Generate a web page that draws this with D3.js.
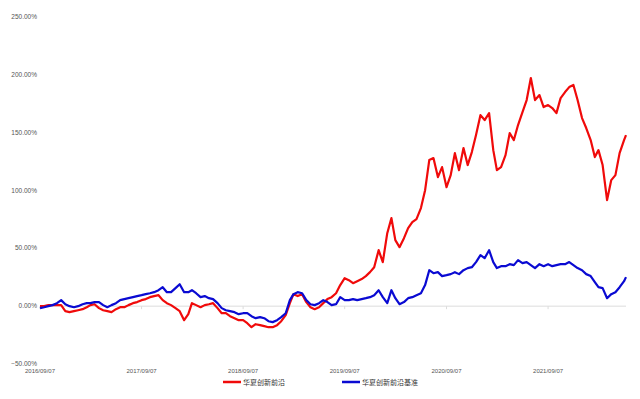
<!DOCTYPE html>
<html>
<head>
<meta charset="utf-8">
<script src="https://cdn.jsdelivr.net/npm/d3@7"></script>
<style>
  body { margin: 0; background: #fff; }
  text { font-family: "Liberation Sans", Arial, sans-serif; }
</style>
</head>
<body>
<div class="vis-linechart"></div>
<script>
// semi-monthly observation dates
const dates = [
  "2016-09-07","2016-09-22","2016-10-07","2016-10-22","2016-11-07","2016-11-22","2016-12-07","2016-12-22",
  "2017-01-07","2017-01-22","2017-02-07","2017-02-22","2017-03-07","2017-03-22","2017-04-07","2017-04-22",
  "2017-05-07","2017-05-22","2017-06-07","2017-06-22","2017-07-07","2017-07-22","2017-08-07","2017-08-22",
  "2017-09-07","2017-09-22","2017-10-07","2017-10-22","2017-11-07","2017-11-22","2017-12-07","2017-12-22",
  "2018-01-07","2018-01-22","2018-02-07","2018-02-22","2018-03-07","2018-03-22","2018-04-07","2018-04-22",
  "2018-05-07","2018-05-22","2018-06-07","2018-06-22","2018-07-07","2018-07-22","2018-08-07","2018-08-22",
  "2018-09-07","2018-09-22","2018-10-07","2018-10-22","2018-11-07","2018-11-22","2018-12-07","2018-12-22",
  "2019-01-07","2019-01-22","2019-02-07","2019-02-22","2019-03-07","2019-03-22","2019-04-07","2019-04-22",
  "2019-05-07","2019-05-22","2019-06-07","2019-06-22","2019-07-07","2019-07-22","2019-08-07","2019-08-22",
  "2019-09-07","2019-09-22","2019-10-07","2019-10-22","2019-11-07","2019-11-22","2019-12-07","2019-12-22",
  "2020-01-07","2020-01-22","2020-02-07","2020-02-22","2020-03-07","2020-03-22","2020-04-07","2020-04-22",
  "2020-05-07","2020-05-22","2020-06-07","2020-06-22","2020-07-07","2020-07-22","2020-08-07","2020-08-22",
  "2020-09-07","2020-09-22","2020-10-07","2020-10-22","2020-11-07","2020-11-22","2020-12-07","2020-12-22",
  "2021-01-07","2021-01-22","2021-02-07","2021-02-22","2021-03-07","2021-03-22","2021-04-07","2021-04-22",
  "2021-05-07","2021-05-22","2021-06-07","2021-06-22","2021-07-07","2021-07-22","2021-08-07","2021-08-22",
  "2021-09-07","2021-09-22","2021-10-07","2021-10-22","2021-11-07","2021-11-22","2021-12-07","2021-12-22",
  "2022-01-07","2022-01-22","2022-02-07","2022-02-22","2022-03-07","2022-03-22","2022-04-07","2022-04-22",
  "2022-05-07","2022-05-22","2022-06-07","2022-06-14"
];

// fund cumulative return (%)
const fundValues = [
  0, 0, 0.9, 0.9, 0.9, 0.9, -4.3, -5.2, -4.3, -3.5,
  -2.6, -0.9, 0.9, 1.7, -1.7, -3.5, -4.3, -5.2, -2.6, -0.9,
  -0.9, 0.9, 2.6, 3.5, 5.2, 6.1, 7.8, 8.7, 9.5, 5.2,
  2.6, 0.9, -1.7, -4.3, -12.1, -6.9, 2.6, 0.9, -0.9, 0.9,
  1.7, 2.6, -1.7, -6.1, -6.1, -8.7, -10.4, -12.1, -12.1, -14.7,
  -18.2, -15.6, -16.4, -17.3, -18.2, -18.2, -16.4, -13.0, -7.8, 2.6,
  10.4, 8.7, 10.4, 3.5, -0.9, -2.6, -0.9, 2.6, 6.1, 7.8,
  11.2, 18.2, 24.2, 22.5, 19.9, 21.6, 23.4, 26.0, 29.4, 33.7,
  48.4, 38.1, 63.1, 76.1, 57.1, 51.0, 58.8, 67.5, 72.7, 75.3,
  84.8, 100.3, 126.3, 128.0, 111.6, 120.2, 102.9, 113.3, 132.3, 117.6,
  136.7, 122.0, 133.2, 147.9, 165.2, 160.9, 166.9, 134.9, 117.6, 120.2,
  130.6, 149.6, 143.6, 156.6, 167.8, 178.2, 197.2, 178.2, 182.5, 172.1,
  173.9, 171.3, 166.9, 179.9, 185.1, 189.4, 191.2, 178.2, 162.6, 154.0,
  143.6, 128.9, 134.9, 122.0, 91.7, 109.0, 113.3, 132.3, 143.6, 147.9
];

// benchmark cumulative return (%)
const benchValues = [
  -1.7, -0.9, 0, 0.9, 2.6, 5.2, 1.7, 0, -0.9, 0,
  1.7, 2.6, 2.6, 3.5, 3.5, 0.9, -0.9, 0.9, 2.6, 5.2,
  6.1, 6.9, 7.8, 8.7, 9.5, 10.4, 11.2, 12.1, 13.8, 16.4,
  12.1, 12.1, 15.6, 19.0, 12.1, 12.1, 13.8, 11.2, 7.8, 8.7,
  6.9, 6.1, 2.6, -1.7, -3.5, -4.3, -5.2, -6.9, -6.1, -6.1,
  -8.7, -10.4, -9.5, -10.4, -13.0, -13.8, -12.1, -9.5, -6.1, 5.2,
  10.4, 12.1, 11.2, 5.2, 1.7, 0.9, 2.6, 5.2, 3.5, 0.9,
  1.7, 7.8, 5.2, 5.2, 6.1, 5.2, 6.1, 6.9, 7.8, 9.5,
  13.8, 7.8, 2.6, 13.8, 6.9, 1.7, 3.5, 6.9, 7.8, 9.5,
  11.2, 18.2, 31.1, 28.5, 29.4, 26.0, 26.8, 27.7, 29.4, 27.7,
  31.1, 32.9, 33.7, 38.1, 44.1, 41.5, 48.4, 38.1, 32.9, 34.6,
  34.6, 36.3, 35.5, 39.8, 37.2, 38.1, 35.5, 32.9, 36.3, 34.6,
  36.3, 34.6, 35.5, 36.3, 36.3, 38.1, 35.5, 32.9, 31.1, 27.7,
  26.0, 20.8, 16.4, 15.6, 6.9, 10.4, 12.1, 16.4, 21.6, 25.1
];

const seriesNames = ["华夏创新前沿", "华夏创新前沿基准"];
const yTicks = [-50, 0, 50, 100, 150, 200, 250];
const xTicks = ["2016-09-07", "2017-09-07", "2018-09-07", "2019-09-07", "2020-09-07", "2021-09-07"];

const parse = d3.timeParse("%Y-%m-%d");
const colors = ["#f00a0a", "#0a0ad2"];

const series = [fundValues, benchValues].map(function(vals, k) {
  return {
    name: seriesNames[k],
    color: colors[k],
    values: vals.map(function(v, i) { return {date: parse(dates[i]), value: v}; })
  };
});

var width = 640, height = 399;

var svg = d3.select(".vis-linechart")
  .append("svg")
    .attr("width", width)
    .attr("height", height);

var x = d3.scaleTime()
  .domain([parse(dates[0]), parse(dates[dates.length - 1])])
  .range([40, 626]);

var y = d3.scaleLinear()
  .domain([-50, 250])
  .range([364, 17]);

// y labels
svg.append("g")
  .selectAll("text")
  .data(yTicks)
  .enter()
  .append("text")
    .attr("x", 37)
    .attr("y", d => y(d) + 2)
    .attr("text-anchor", "end")
    .style("font-size", "6.5px")
    .style("fill", "#555")
    .text(d => d3.format(".2f")(d) + "%");

// zero line
svg.append("line")
  .attr("x1", x.range()[0])
  .attr("x2", x.range()[1])
  .attr("y1", y(0))
  .attr("y2", y(0))
  .style("stroke", "#dcdcdc")
  .style("stroke-width", 1);

// small ticks on zero line
svg.append("g")
  .selectAll("line")
  .data(xTicks)
  .enter()
  .append("line")
    .attr("x1", d => x(parse(d)))
    .attr("x2", d => x(parse(d)))
    .attr("y1", y(0))
    .attr("y2", y(0) + 3)
    .style("stroke", "#dcdcdc");

// x labels
svg.append("g")
  .selectAll("text")
  .data(xTicks)
  .enter()
  .append("text")
    .attr("x", d => x(parse(d)))
    .attr("y", 373)
    .attr("text-anchor", "middle")
    .style("font-size", "6px")
    .style("fill", "#555")
    .text(d => d.replace(/-/g, "/"));

// lines
var line = d3.line()
  .x(d => x(d.date))
  .y(d => y(d.value));

svg.append("g")
  .selectAll("path")
  .data(series)
  .enter()
  .append("path")
    .attr("d", d => line(d.values))
    .style("fill", "none")
    .style("stroke", d => d.color)
    .style("stroke-width", 2.2)
    .style("stroke-linejoin", "round");

// legend
var legendX = [223, 342];
var legend = svg.append("g")
  .selectAll("g")
  .data(series)
  .enter()
  .append("g")
    .attr("transform", (d, i) => "translate(" + legendX[i] + ",382)");

legend.append("line")
  .attr("x1", 0)
  .attr("x2", 18)
  .style("stroke", d => d.color)
  .style("stroke-width", 2.5);

legend.append("text")
  .attr("x", 20)
  .attr("y", 2.5)
  .style("font-family", "'Noto Sans CJK SC', sans-serif")
  .style("font-size", "7px")
  .style("fill", "#333")
  .text(d => d.name);
</script>
</body>
</html>
